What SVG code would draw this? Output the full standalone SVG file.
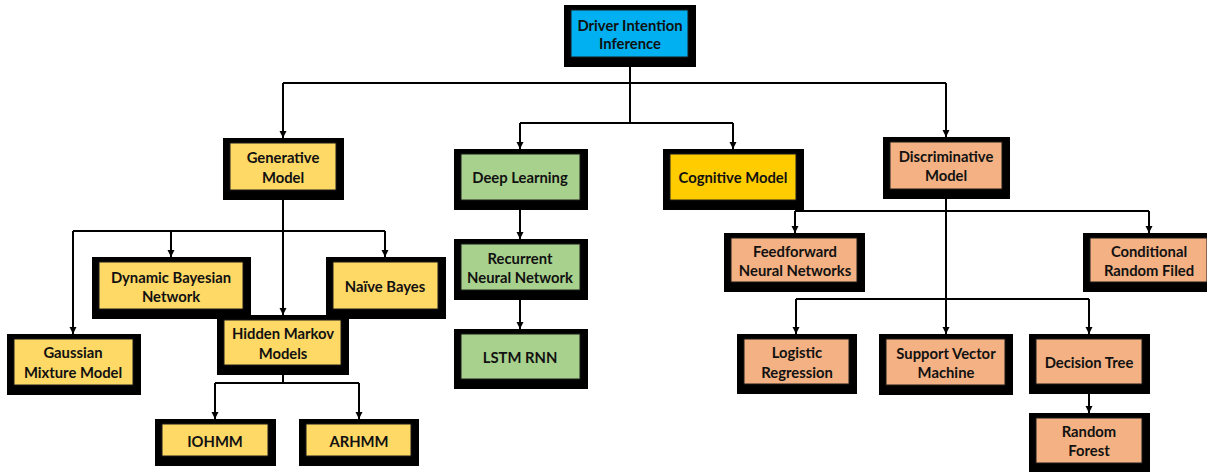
<svg xmlns="http://www.w3.org/2000/svg" width="1207" height="472" viewBox="0 0 1207 472">
<style>
.o{fill:#000}
.i{stroke:#1b1b1b;stroke-width:1}
.y{fill:#FFD966}.g{fill:#A9D18E}.b{fill:#00B0F0}.c{fill:#FFCC00}.r{fill:#F4B183}
text{font-family:Lato,"Liberation Sans",sans-serif;font-weight:bold;font-size:14.8px;fill:#111;text-anchor:middle;dominant-baseline:central}
.l{fill:none;stroke:#000;stroke-width:2}
</style>
<defs>
<marker id="a" viewBox="0 0 10 10" refX="10" refY="5" markerWidth="7" markerHeight="10" markerUnits="userSpaceOnUse" orient="auto">
<path d="M0,0 L10,5 L0,10 z" fill="#000"/>
</marker>
</defs>
<rect width="1207" height="472" fill="#fff"/>
<g id="connectors">
<path class="l" d="M630,57 V123 M283,83 H946 M520,123 H733"/>
<path class="l" d="M283,83 V138" marker-end="url(#a)"/>
<path class="l" d="M946,83 V137" marker-end="url(#a)"/>
<path class="l" d="M520,123 V149" marker-end="url(#a)"/>
<path class="l" d="M733,123 V149" marker-end="url(#a)"/>
<path class="l" d="M73,231 H385"/>
<path class="l" d="M283,190 V315" marker-end="url(#a)"/>
<path class="l" d="M73,231 V334" marker-end="url(#a)"/>
<path class="l" d="M171,231 V257" marker-end="url(#a)"/>
<path class="l" d="M385,231 V257" marker-end="url(#a)"/>
<path class="l" d="M283,366 V383 M215,383 H359"/>
<path class="l" d="M215,383 V419" marker-end="url(#a)"/>
<path class="l" d="M359,383 V419" marker-end="url(#a)"/>
<path class="l" d="M520,199 V239" marker-end="url(#a)"/>
<path class="l" d="M520,290 V329" marker-end="url(#a)"/>
<path class="l" d="M946,189 V334" marker-end="url(#a)"/>
<path class="l" d="M795,211 H1149 M796,299 H1089"/>
<path class="l" d="M795,211 V233" marker-end="url(#a)"/>
<path class="l" d="M1149,211 V233" marker-end="url(#a)"/>
<path class="l" d="M796,299 V334" marker-end="url(#a)"/>
<path class="l" d="M1089,299 V334" marker-end="url(#a)"/>
<path class="l" d="M1089,384 V413" marker-end="url(#a)"/>
</g>
<g id="root"><rect class="o" x="564" y="5" width="132" height="62"/><rect class="i b" x="571" y="10" width="117" height="47"/><text x="630" y="25">Driver Intention</text><text x="630" y="43">Inference</text></g>
<g id="generative"><rect class="o" x="223" y="138" width="121" height="62"/><rect class="i y" x="230" y="143" width="106" height="47"/><text x="283" y="157">Generative</text><text x="283" y="177">Model</text></g>
<g id="deep-learning"><rect class="o" x="454" y="149" width="134" height="61"/><rect class="i g" x="461" y="154" width="119" height="46"/><text x="520" y="177">Deep Learning</text></g>
<g id="cognitive"><rect class="o" x="663" y="149" width="141" height="61"/><rect class="i c" x="670" y="154" width="126" height="46"/><text x="733" y="177">Cognitive Model</text></g>
<g id="discriminative"><rect class="o" x="883" y="137" width="127" height="62"/><rect class="i r" x="890" y="142" width="112" height="47"/><text x="946" y="156">Discriminative</text><text x="946" y="175">Model</text></g>
<g id="dbn"><rect class="o" x="92" y="257" width="159" height="62"/><rect class="i y" x="99" y="262" width="144" height="47"/><text x="171" y="277">Dynamic Bayesian</text><text x="171" y="296">Network</text></g>
<g id="naive-bayes"><rect class="o" x="326" y="257" width="120" height="62"/><rect class="i y" x="333" y="262" width="105" height="47"/><text x="385" y="286">Naïve Bayes</text></g>
<g id="hmm"><rect class="o" x="217" y="315" width="132" height="60"/><rect class="i y" x="224" y="320" width="117" height="45"/><text x="283" y="333">Hidden Markov</text><text x="283" y="353">Models</text></g>
<g id="gmm"><rect class="o" x="7" y="334" width="134" height="61"/><rect class="i y" x="14" y="339" width="119" height="46"/><text x="73" y="352">Gaussian</text><text x="73" y="372">Mixture Model</text></g>
<g id="iohmm"><rect class="o" x="155" y="419" width="121" height="47"/><rect class="i y" x="162" y="424" width="106" height="32"/><text x="215" y="441">IOHMM</text></g>
<g id="arhmm"><rect class="o" x="299" y="419" width="120" height="47"/><rect class="i y" x="306" y="424" width="105" height="32"/><text x="359" y="441">ARHMM</text></g>
<g id="rnn"><rect class="o" x="454" y="239" width="134" height="61"/><rect class="i g" x="461" y="244" width="119" height="46"/><text x="520" y="258">Recurrent</text><text x="520" y="277">Neural Network</text></g>
<g id="lstm"><rect class="o" x="454" y="329" width="134" height="60"/><rect class="i g" x="461" y="334" width="119" height="45"/><text x="520" y="357">LSTM RNN</text></g>
<g id="feedforward"><rect class="o" x="724" y="233" width="141" height="59"/><rect class="i r" x="731" y="238" width="126" height="44"/><text x="795" y="251">Feedforward</text><text x="795" y="270">Neural Networks</text></g>
<g id="crf"><rect class="o" x="1083" y="233" width="132" height="59"/><rect class="i r" x="1090" y="238" width="117" height="44"/><text x="1149" y="251">Conditional</text><text x="1149" y="270">Random Filed</text></g>
<g id="logistic"><rect class="o" x="737" y="334" width="120" height="60"/><rect class="i r" x="744" y="339" width="105" height="45"/><text x="797" y="352">Logistic</text><text x="797" y="372">Regression</text></g>
<g id="svm"><rect class="o" x="879" y="334" width="134" height="61"/><rect class="i r" x="886" y="339" width="119" height="46"/><text x="946" y="353">Support Vector</text><text x="946" y="372">Machine</text></g>
<g id="decision-tree"><rect class="o" x="1029" y="334" width="121" height="60"/><rect class="i r" x="1036" y="339" width="106" height="45"/><text x="1089" y="362">Decision Tree</text></g>
<g id="random-forest"><rect class="o" x="1029" y="413" width="121" height="62"/><rect class="i r" x="1036" y="418" width="106" height="45"/><text x="1089" y="431">Random</text><text x="1089" y="450">Forest</text></g>
</svg>
